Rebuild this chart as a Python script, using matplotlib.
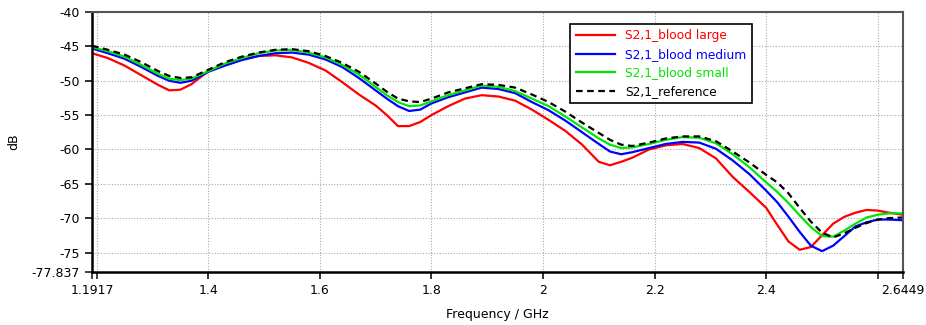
import matplotlib
matplotlib.use("Agg")
import matplotlib.pyplot as plt

# frequency samples (GHz) and S21 traces (dB)
freq = [1.1917, 1.22, 1.25, 1.28, 1.31, 1.33, 1.35, 1.37, 1.40, 1.43, 1.46,
        1.49, 1.52, 1.55, 1.58, 1.61, 1.64, 1.67, 1.70, 1.72, 1.74, 1.76,
        1.78, 1.80, 1.83, 1.86, 1.89, 1.92, 1.95, 1.98, 2.01, 2.04, 2.07,
        2.10, 2.12, 2.14, 2.16, 2.19, 2.22, 2.25, 2.28, 2.31, 2.34, 2.37,
        2.40, 2.42, 2.44, 2.46, 2.48, 2.50, 2.52, 2.54, 2.56, 2.58, 2.60,
        2.62, 2.6449]

blood_large = [-46.0, -46.7, -47.8, -49.2, -50.6, -51.4, -51.3, -50.5, -48.6,
               -47.6, -46.9, -46.4, -46.3, -46.6, -47.4, -48.5, -50.2, -52.0,
               -53.6, -55.0, -56.6, -56.6, -56.0, -55.0, -53.7, -52.6, -52.1,
               -52.3, -52.9, -54.2, -55.7, -57.3, -59.3, -61.8, -62.3, -61.8,
               -61.2, -60.0, -59.4, -59.2, -59.8, -61.3, -64.0, -66.2, -68.5,
               -71.0, -73.4, -74.6, -74.2, -72.5, -70.8, -69.8, -69.2, -68.8,
               -68.9, -69.2, -69.5]

blood_medium = [-45.3, -46.0, -46.8, -48.0, -49.3, -50.0, -50.3, -50.0, -48.7,
                -47.8, -47.0, -46.4, -46.0, -45.9, -46.2, -46.9, -48.0, -49.6,
                -51.4, -52.6, -53.7, -54.4, -54.2, -53.3, -52.4, -51.7, -51.0,
                -51.2, -51.8, -53.1, -54.3, -55.8, -57.5, -59.2, -60.3, -60.7,
                -60.4, -59.8, -59.2, -58.9, -59.0, -59.9, -61.6, -63.6, -66.0,
                -67.7, -69.8, -72.0, -74.0, -74.8, -74.0, -72.6, -71.2, -70.6,
                -70.2, -70.2, -70.3]

blood_small = [-45.1, -45.7, -46.5, -47.7, -49.0, -49.7, -49.9, -49.7, -48.6,
               -47.5, -46.7, -46.0, -45.6, -45.5, -45.9, -46.6, -47.7, -49.1,
               -50.9, -52.1, -53.1, -53.7, -53.6, -53.0, -52.1, -51.4, -50.7,
               -50.9, -51.5, -52.6, -53.7, -55.2, -56.8, -58.4, -59.3, -59.8,
               -59.7, -59.2, -58.6, -58.2, -58.3, -59.1, -60.7, -62.6, -64.8,
               -66.2, -67.8, -69.6, -71.3, -72.6, -72.7, -71.8, -70.8, -69.9,
               -69.5, -69.3, -69.3]

reference = [-44.9, -45.5, -46.2, -47.3, -48.6, -49.3, -49.6, -49.5, -48.4,
             -47.3, -46.5, -45.9, -45.5, -45.4, -45.7, -46.4, -47.4, -48.7,
             -50.4, -51.6, -52.6, -53.0, -53.1, -52.6, -51.7, -51.1, -50.5,
             -50.6, -51.0, -52.0, -53.1, -54.5, -56.1, -57.6, -58.6, -59.3,
             -59.5, -59.0, -58.4, -58.1, -58.1, -58.8, -60.3, -61.9, -63.7,
             -64.8, -66.4, -68.5, -70.5, -72.1, -72.8, -72.2, -71.4, -70.7,
             -70.2, -70.0, -69.9]

x_major = [1.1917, 1.4, 1.6, 1.8, 2.0, 2.2, 2.4, 2.6449]
x_labels = ["1.1917", "1.4", "1.6", "1.8", "2", "2.2", "2.4", "2.6449"]
x_grid = [1.2, 1.4, 1.6, 1.8, 2.0, 2.2, 2.4, 2.6]
y_major = [-77.837, -75, -70, -65, -60, -55, -50, -45, -40]
y_labels = ["-77.837", "-75", "-70", "-65", "-60", "-55", "-50", "-45", "-40"]
y_grid = [-75, -70, -65, -60, -55, -50, -45]

plt.rcParams.update({"font.family": "DejaVu Sans", "font.size": 9})

fig = plt.figure(figsize=(9.26, 3.25), dpi=100)
ax = fig.add_axes([0.0994, 0.163, 0.8756, 0.800])

ax.plot(freq, blood_large, color="#ff0000", lw=1.6, label="S2,1_blood large")
ax.plot(freq, blood_medium, color="#0000ff", lw=1.6, label="S2,1_blood medium")
ax.plot(freq, blood_small, color="#00e600", lw=1.6, label="S2,1_blood small")
ax.plot(freq, reference, color="black", lw=1.6, ls=(0, (3, 2)),
        label="S2,1_reference")

ax.set_xlim(1.1917, 2.6449)
ax.set_ylim(-77.837, -40)
ax.xaxis.remove_overlapping_locs = False
ax.yaxis.remove_overlapping_locs = False
ax.set_xticks(x_major)
ax.set_xticklabels(x_labels)
ax.set_xticks(x_grid, minor=True)
ax.set_yticks(y_major)
ax.set_yticklabels(y_labels)
ax.set_yticks(y_grid, minor=True)
ax.tick_params(which="both", direction="out", length=5, width=1.3,
               colors="#333333", labelcolor="black", labelsize=9)
ax.grid(which="minor", color="#aaaaaa", ls=(0, (1, 1.5)), lw=0.8)
ax.grid(which="major", visible=False)

for side in ["top", "right"]:
    ax.spines[side].set_color("#555555")
    ax.spines[side].set_linewidth(1.5)
for side in ["left", "bottom"]:
    ax.spines[side].set_color("black")
    ax.spines[side].set_linewidth(1.8)

ax.set_xlabel("Frequency / GHz", fontsize=9, labelpad=8)
ax.set_ylabel("dB", fontsize=9)
ax.yaxis.set_label_coords(-0.088, 0.5)

leg = ax.legend(loc="upper right", bbox_to_anchor=(0.821, 0.978),
                frameon=True, fancybox=False, framealpha=1, edgecolor="black",
                labelcolor="linecolor", handlelength=3.2, fontsize=8.8,
                borderpad=0.45, labelspacing=0.45)
leg.get_frame().set_linewidth(1.2)

fig.savefig("out.png", dpi=100)
